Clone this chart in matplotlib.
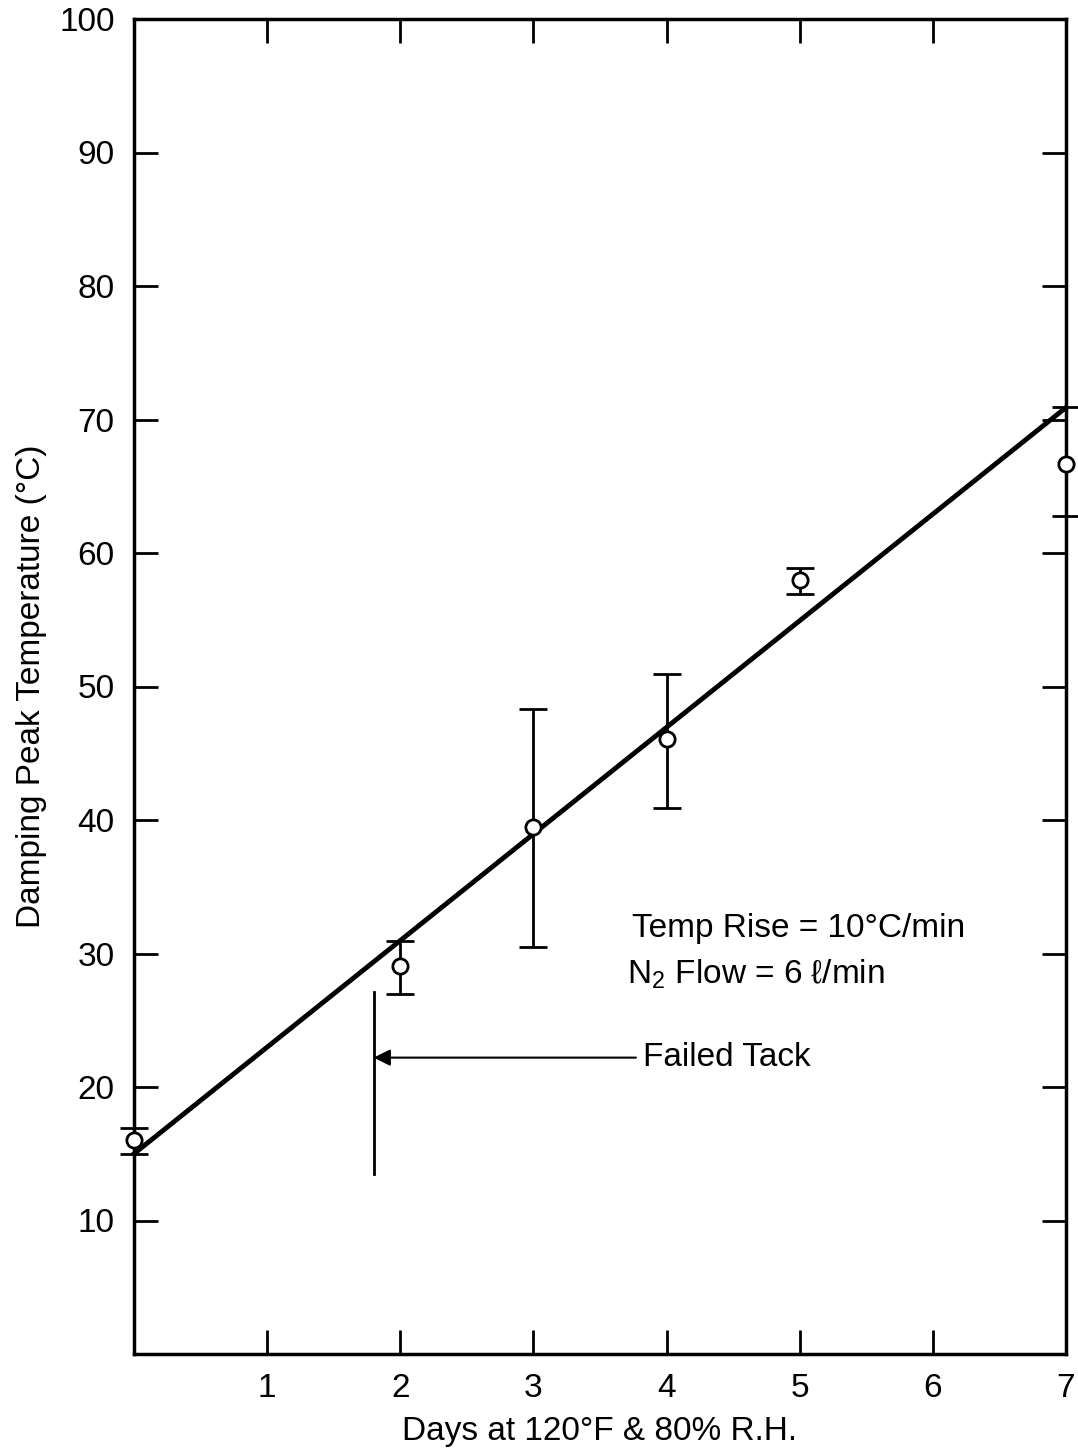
import numpy as np
import matplotlib
matplotlib.use("Agg")
import matplotlib.pyplot as plt
from matplotlib import font_manager

# data
days = [0, 2, 3, 4, 5, 7]
peak_temp = [16.0, 29.1, 39.5, 46.1, 58.0, 66.7]
err_low = [15.0, 27.0, 30.5, 40.9, 56.9, 62.8]
err_high = [16.9, 30.9, 48.3, 50.9, 58.9, 70.9]

fit_x = [0, 7]
fit_y = [15.0, 70.9]

tack_day = 1.8
tack_span = [13.5, 27.1]
tack_arrow_y = 22.2

#pick a narrow font if it is there
names = set(f.name for f in font_manager.fontManager.ttflist)
if "Liberation Sans Narrow" in names:
    fam = ["Liberation Sans Narrow", "DejaVu Sans"]
else:
    fam = ["Liberation Sans", "DejaVu Sans"]
plt.rcParams["font.family"] = fam
plt.rcParams["mathtext.fontset"] = "custom"
plt.rcParams["mathtext.rm"] = fam[0]

fig = plt.figure(figsize=(10.78, 14.54), dpi=100)
ax = fig.add_axes([134/1078, 1-1354/1454, (1066-134)/1078, (1354-19)/1454])

yerr = [np.array(peak_temp)-np.array(err_low), np.array(err_high)-np.array(peak_temp)]
ax.errorbar(days, peak_temp, yerr=yerr, fmt="o", color="black", mfc="white",
            mec="black", ms=11, mew=2, elinewidth=2, capsize=10, capthick=2,
            zorder=4, clip_on=False)
ax.plot(fit_x, fit_y, color="black", lw=3.5, zorder=3, clip_on=False)

# failed tack marker
ax.plot([tack_day, tack_day], tack_span, color="black", lw=2)
ax.annotate("", xy=(tack_day, tack_arrow_y), xytext=(3.77, tack_arrow_y),
            arrowprops=dict(arrowstyle="-|>", color="black", lw=1.5,
                            mutation_scale=25, shrinkA=0, shrinkB=0))
ax.text(3.82, tack_arrow_y, "Failed Tack", fontsize=24, va="center", ha="left")

ax.text(3.74, 30.7, "Temp Rise = 10°C/min", fontsize=24, va="bottom", ha="left")
ax.text(3.70, 27.2, "N$_2$ Flow = 6 ℓ/min", fontsize=24, va="bottom", ha="left")

ax.set_xlim(0, 7)
ax.set_ylim(0, 100)
ax.set_xticks([1, 2, 3, 4, 5, 6, 7])
ax.set_yticks([10, 20, 30, 40, 50, 60, 70, 80, 90, 100])
ax.tick_params(direction="in", length=17, width=2, top=True, right=True,
               labelsize=24, pad=14)
for s in ax.spines.values():
    s.set_linewidth(2.5)

ax.set_xlabel("Days at 120°F & 80% R.H.", fontsize=24, labelpad=8)
ax.set_ylabel("Damping Peak Temperature (°C)", fontsize=24, labelpad=9)

fig.savefig("out.png", dpi=100)
